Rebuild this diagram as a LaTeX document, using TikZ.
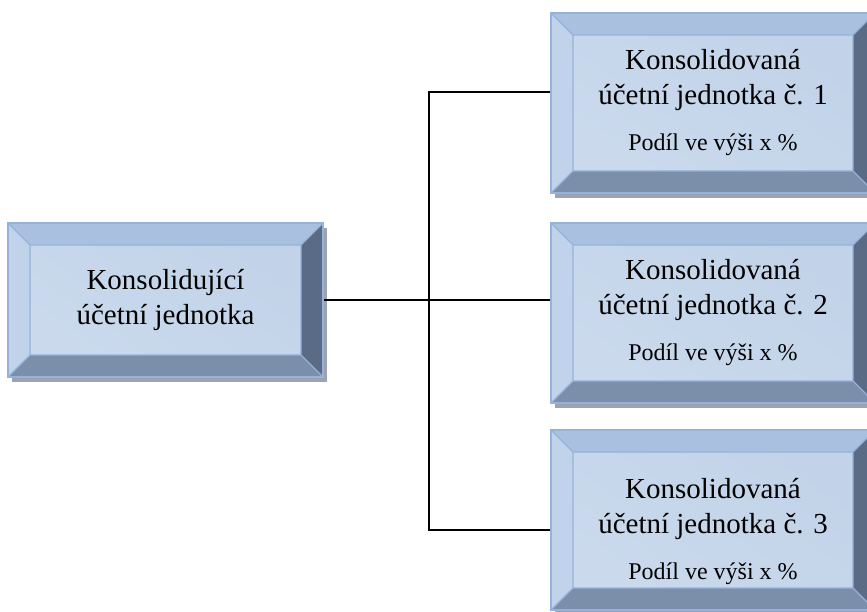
\documentclass[tikz,border=0pt]{standalone}
\usepackage{fontspec}
\setmainfont{Liberation Serif}
\usetikzlibrary{shadows}
\definecolor{bevtop}{HTML}{A9C0DF}
\definecolor{bevleft}{HTML}{C0D3EB}
\definecolor{bevright}{HTML}{5A6B85}
\definecolor{bevbottom}{HTML}{7B8EAA}
\definecolor{faceA}{HTML}{C2D3E9}
\definecolor{faceB}{HTML}{CAD9EC}
\definecolor{faceC}{HTML}{E2E9F3}
\definecolor{rimblue}{HTML}{95B3DA}
\definecolor{shadowgray}{HTML}{9AA3AF}
\newcommand{\bigtext}{\fontsize{29}{35}\selectfont}
\newcommand{\smalltext}{\fontsize{24}{28}\selectfont}
\newlength{\bevw}
\setlength{\bevw}{22pt}

\begin{document}
\begin{tikzpicture}[x=1pt,y=-1pt]
\tikzstyle{face}=[top color=faceA,middle color=faceC,bottom color=faceB,shading angle=-35];
\tikzstyle{rim}=[rimblue,line width=1.1pt];
\tikzstyle{box}=[rectangle,minimum width=324pt,minimum height=180pt,inner sep=0pt,
  align=center,font=\bigtext,draw=rimblue,line width=1.1pt,
  drop shadow={shadow xshift=4pt,shadow yshift=-5pt,fill=shadowgray,opacity=1},
  path picture={
    \coordinate (nw) at (path picture bounding box.north west);
    \coordinate (ne) at (path picture bounding box.north east);
    \coordinate (sw) at (path picture bounding box.south west);
    \coordinate (se) at (path picture bounding box.south east);
    \coordinate (inw) at ([shift={(\bevw,-\bevw)}]nw);
    \coordinate (ine) at ([shift={(-\bevw,-\bevw)}]ne);
    \coordinate (isw) at ([shift={(\bevw,\bevw)}]sw);
    \coordinate (ise) at ([shift={(-\bevw,\bevw)}]se);
    \shade [face] (inw) rectangle (ise);
    \fill [bevtop] (nw) -- (ne) -- (ine) -- (inw) -- cycle;
    \fill [bevleft] (nw) -- (inw) -- (isw) -- (sw) -- cycle;
    \fill [bevright] (ne) -- (se) -- (ise) -- (ine) -- cycle;
    \fill [bevbottom] (sw) -- (isw) -- (ise) -- (se) -- cycle;
    \draw [rim] (nw) -- (inw) (ne) -- (ine) (sw) -- (isw) (se) -- (ise) (inw) rectangle (ise);
  }];
\tikzstyle{link}=[line width=1.6pt];
\useasboundingbox (0,0) rectangle (867,612);

\node [box,minimum width=315pt,minimum height=154pt] (parent) at (165.5,300) {Konsolidující\\účetní jednotka};
\node [box] (unit1) at (713,103) {Konsolidovaná\\účetní jednotka č. 1\\[11pt]{\smalltext Podíl ve výši x \%}};
\node [box] (unit2) at (713,313) {Konsolidovaná\\účetní jednotka č. 2\\[11pt]{\smalltext Podíl ve výši x \%}};
% text sits a little lower in the last box
\node [box] (unit3) at (713,520) {\rule{0pt}{44pt}Konsolidovaná\\účetní jednotka č. 3\\[11pt]{\smalltext Podíl ve výši x \%}};

\coordinate (j1) at (429,92);
\coordinate (j3) at (429,530);
\draw [link] (parent.east) -- (unit2.west |- parent.east);
\draw [link] (unit1.west |- j1) -- (j1) -- (j3) -- (unit3.west |- j3);
\end{tikzpicture}
\end{document}
